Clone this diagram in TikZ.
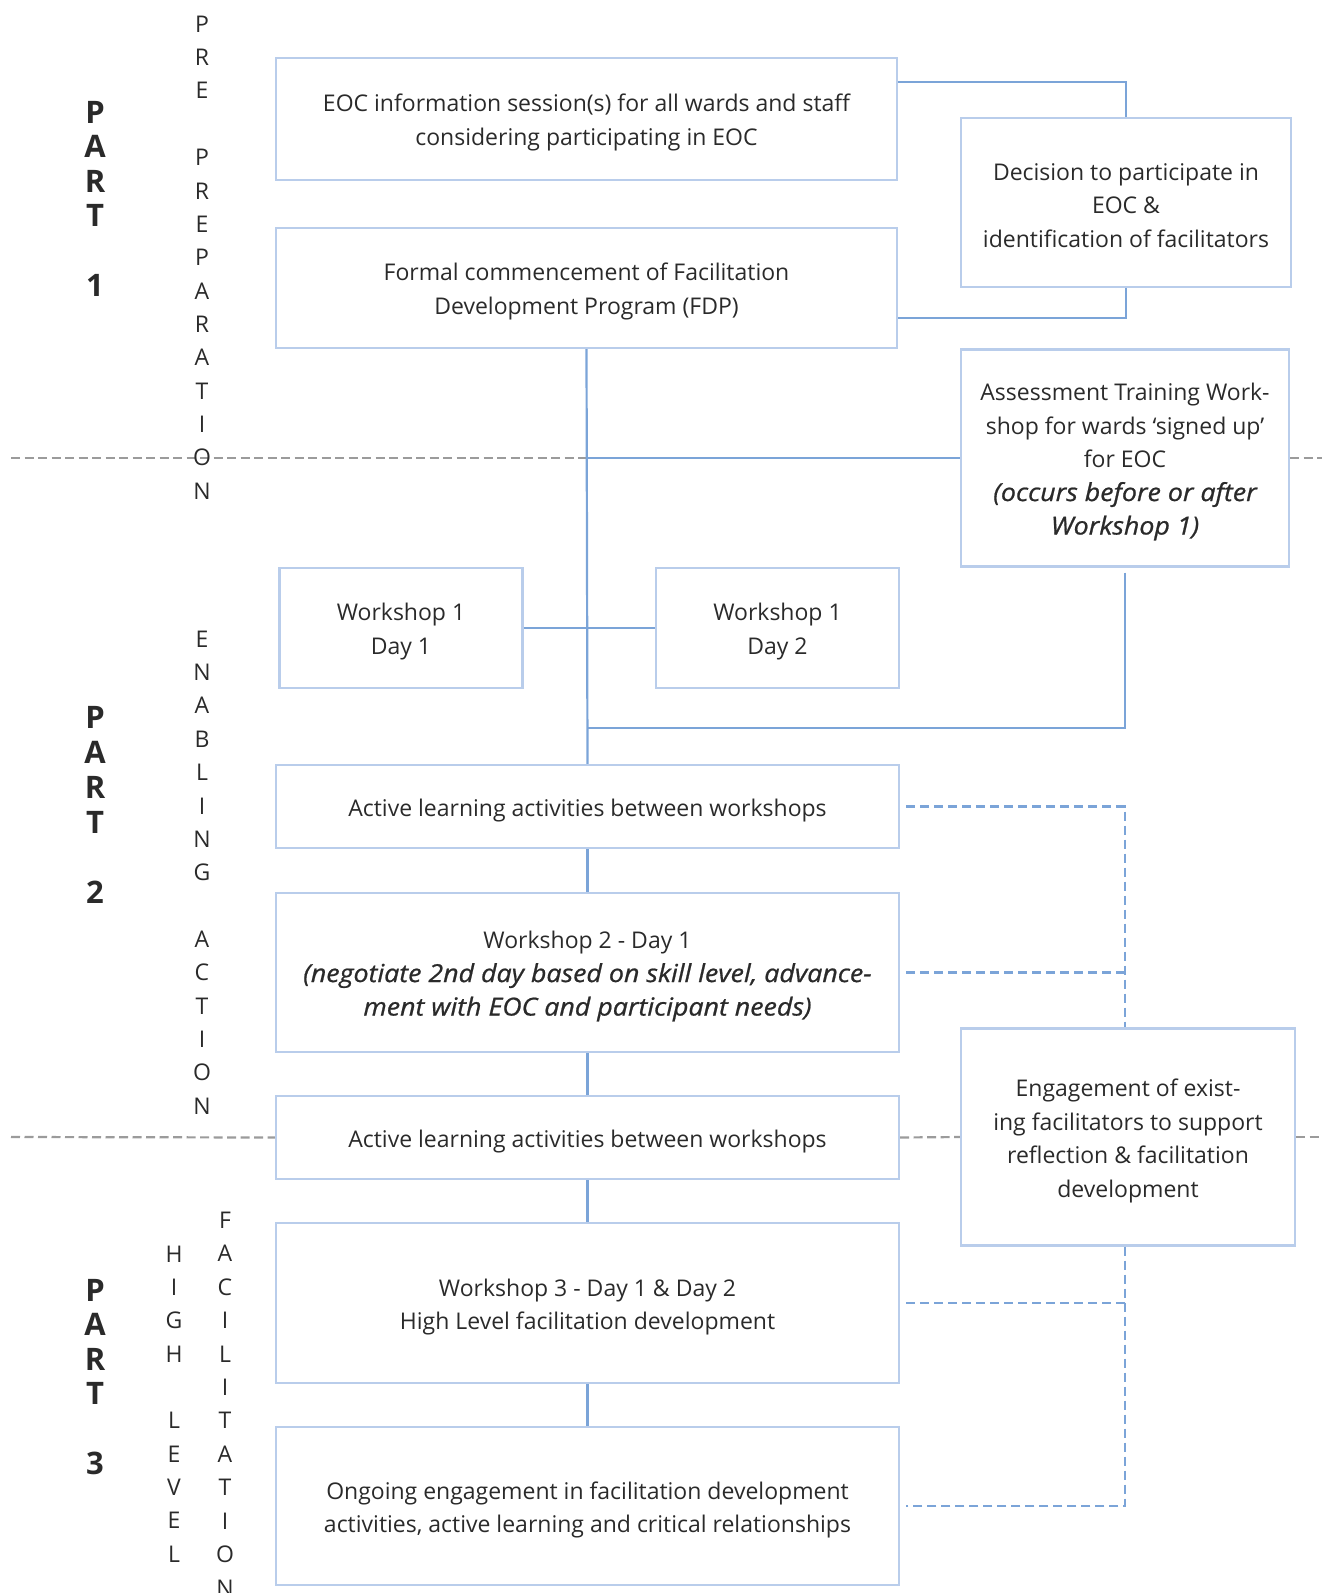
\documentclass[tikz,border=0pt]{standalone}
\usepackage{fontspec}
\setmainfont{Open Sans}
\newfontfamily\asidefamily{Open Sans}[FakeStretch=1.08, FakeBold=0.8]
\newcommand\asidetext{\asidefamily\itshape\fontsize{24.8}{33.5}\selectfont}
% strut that fixes the top and bottom of a box's text block
\newcommand\boxstrut{\rule[-3pt]{0pt}{28pt}}
\usetikzlibrary{calc}
\definecolor{boxline}{HTML}{B9CDEB}
\definecolor{linkline}{HTML}{7BA4D8}
\definecolor{sepline}{HTML}{9B9B9B}
\definecolor{ink}{HTML}{2A2A2A}

\begin{document}
\begin{tikzpicture}[x=1pt,y=-1pt,
  stage/.style={draw=boxline, line width=2.4pt, text=ink, align=center, inner sep=0pt,
    font=\fontsize{23}{33.5}\selectfont},
  link/.style={draw=linkline, line width=2.2pt},
  softlink/.style={draw=linkline, line width=2.2pt, dash pattern=on 9pt off 5pt},
  phase/.style={draw=sepline, line width=2.2pt, dash pattern=on 9pt off 4.5pt},
  letter/.style={text=ink, inner sep=0pt, font=\fontsize{23}{28}\selectfont},
  partletter/.style={text=ink, inner sep=0pt, font=\fontsize{31}{36}\selectfont\bfseries},
]
\useasboundingbox (0,0) rectangle (1322,1593);

% ---- process boxes ----
\node[stage, minimum width=621pt, minimum height=122pt] (info) at (586.5,119)
  {\boxstrut EOC information session(s) for all wards and staff\\\boxstrut considering participating in EOC};
\node[stage, minimum width=621pt, minimum height=120pt] (fdp) at (586.5,288)
  {\boxstrut Formal commencement of Facilitation\\\boxstrut Development Program (FDP)};
\node[stage, minimum width=330pt, minimum height=169pt] (decide) at (1126,202.5)
  {\boxstrut Decision to participate in\\EOC \&\\\boxstrut identification of facilitators};
\node[stage, minimum width=328pt, minimum height=217pt] (assess) at (1125,458)
  {\boxstrut Assessment Training Work-\\shop for wards ‘signed up’\\for EOC\\{\asidetext (occurs before or after}\\\boxstrut{\asidetext Workshop 1)}};
\node[stage, minimum width=243pt, minimum height=120pt] (wsa) at (401,628)
  {\boxstrut Workshop 1\\\boxstrut Day 1};
\node[stage, minimum width=243pt, minimum height=120pt] (wsb) at (777.5,628)
  {\boxstrut Workshop 1\\\boxstrut Day 2};
\node[stage, minimum width=623pt, minimum height=83pt] (actA) at (587.5,806.5)
  {\boxstrut Active learning activities between workshops};
\node[stage, minimum width=623pt, minimum height=159pt] (wstwo) at (587.5,972.5)
  {\boxstrut Workshop 2 - Day 1\\{\asidetext (negotiate 2nd day based on skill level, advance-}\\\boxstrut{\asidetext ment with EOC and participant needs)}};
\node[stage, minimum width=334pt, minimum height=217pt] (engage) at (1128,1137)
  {\boxstrut Engagement of exist-\\ing facilitators to support\\reflection \& facilitation\\\boxstrut development};
\node[stage, minimum width=623pt, minimum height=83pt] (actB) at (587.5,1137.5)
  {\boxstrut Active learning activities between workshops};
\node[stage, minimum width=623pt, minimum height=160pt] (wsthree) at (587.5,1303)
  {\boxstrut Workshop 3 - Day 1 \& Day 2\\\boxstrut High Level facilitation development};
\node[stage, minimum width=623pt, minimum height=158pt] (ongoing) at (587.5,1506)
  {\boxstrut Ongoing engagement in facilitation development\\\boxstrut activities, active learning and critical relationships};

% ---- phase separators ----
\coordinate (sepAl) at (11,458);
\coordinate (sepAr) at (1322,458);
\coordinate (sepBl) at (11,1137);
\coordinate (sepBr) at (1322,1137);
\draw[phase] (sepAl) -- (assess.west);
\draw[phase] (assess.east) -- (sepAr);
\draw[phase] (sepBl) -- (actB.west);
\draw[phase] (actB.east) -- (engage.west);
\draw[phase] (engage.east) -- (sepBr);

% ---- solid connectors ----
\draw[link] (info.east |- 0,82) -| (decide.north);
\draw[link] (decide.south) |- (fdp.east |- 0,318);
\draw[link] (fdp.south) -- (actA.north);
\draw[link] (fdp.south |- assess.west) -- (assess.west);
\draw[link] (wsa.east) -- (wsb.west);
\draw[link] ([yshift=-5pt]assess.south) |- (fdp.south |- 0,728);
\draw[link] (actA.south) -- (wstwo.north);
\draw[link] (wstwo.south) -- (actB.north);
\draw[link] (actB.south) -- (wsthree.north);
\draw[link] (wsthree.south) -- (ongoing.north);

% ---- dashed support links (spine at x = 1125) ----
\coordinate (spine) at (1125,0);
\draw[softlink, shorten <=6pt] (actA.east) -| (spine |- engage.north);
\draw[softlink, shorten <=6pt] (wstwo.east) -- (spine |- wstwo.east);
\draw[softlink] (spine |- engage.south) |- ([xshift=6pt]ongoing.east);
\draw[softlink, shorten <=6pt] (wsthree.east) -- (spine |- wsthree.east);

% ---- side labels ----
\foreach \ch [count=\i from 0] in {P,A,R,T,{},1}
  \node[partletter] (partone\i) at (95,{112+34.6*\i}) {\ch};
\foreach \ch [count=\i from 0] in {P,A,R,T,{},2}
  \node[partletter] (parttwo\i) at (95,{717+35*\i}) {\ch};
\foreach \ch [count=\i from 0] in {P,A,R,T,{},3}
  \node[partletter] (partthree\i) at (95,{1290+34.6*\i}) {\ch};
\foreach \ch [count=\i from 0] in {P,R,E,{},P,R,E,P,A,R,A,T,I,O,N}
  \node[letter] (prep\i) at (202,{24+33.36*\i}) {\ch};
\foreach \ch [count=\i from 0] in {E,N,A,B,L,I,N,G,{},A,C,T,I,O,N}
  \node[letter] (enab\i) at (202,{639+33.36*\i}) {\ch};
\foreach \ch [count=\i from 0] in {H,I,G,H,{},L,E,V,E,L}
  \node[letter] (high\i) at (174,{1254+33.33*\i}) {\ch};
\foreach \ch [count=\i from 0] in {F,A,C,I,L,I,T,A,T,I,O,N}
  \node[letter] (facil\i) at (225,{1220+33.45*\i}) {\ch};
\end{tikzpicture}
\end{document}
